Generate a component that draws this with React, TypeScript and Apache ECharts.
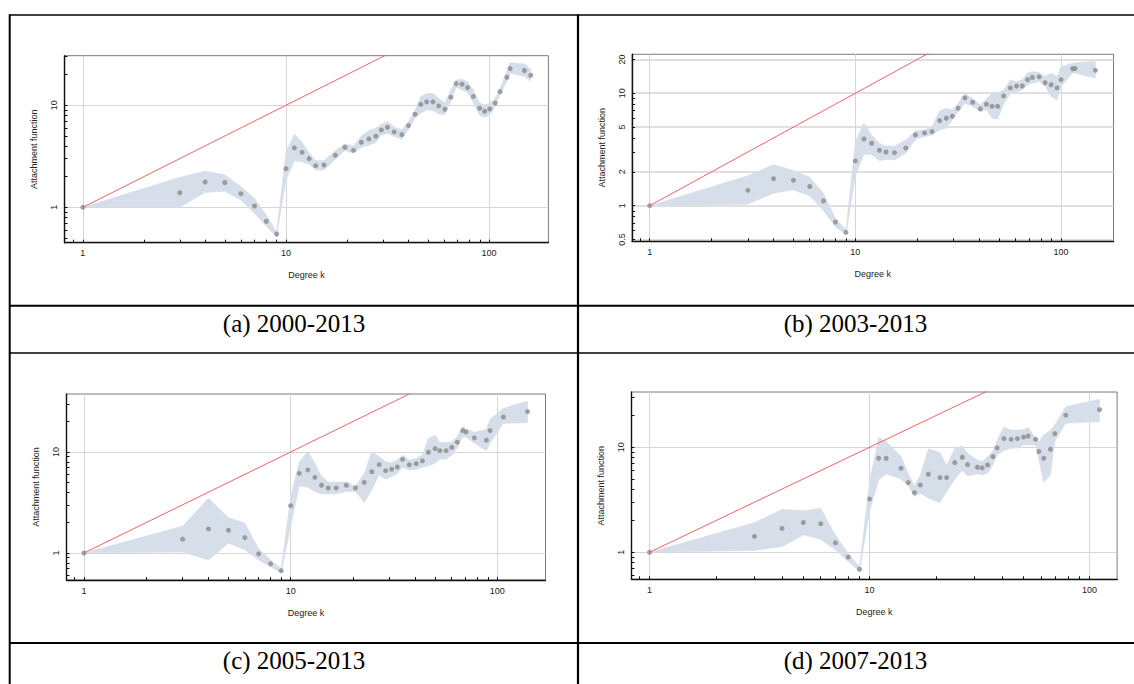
import { useEffect, useRef } from "react";
import * as echarts from "echarts";

// Panel captions (one per period)
const CAPTIONS = ["(a) 2000-2013", "(b) 2003-2013", "(c) 2005-2013", "(d) 2007-2013"];

// Axis tick values
const X_LABELS = [1, 10, 100];
const Y_LABELS = [1, 10];
const Y_LABELS_B = [0.5, 1, 2, 5, 10, 20];
const MINOR_TICKS = [
  0.5, 0.6, 0.7, 0.8, 0.9, 1, 2, 3, 4, 5, 6, 7, 8, 9, 10, 20, 30, 40, 50, 60, 70, 80, 90, 100, 200,
];

// (a) 2000-2013: degree, estimated attachment function, lower and upper bounds
const A_DEGREE = [1, 3, 4, 5, 6, 7, 8, 9, 10, 11, 12, 13, 14, 15.4, 17.5, 19.5, 21.5, 23.5, 25.6, 27.7, 29.5, 31.6, 34.1, 37.2, 40.1, 43.2, 46.1, 49.3, 52.9, 56.5, 60.6, 64.8, 68.9, 73.6, 78.3, 83.7, 89.8, 95.1, 100.8, 107.2, 113.2, 122.4, 127, 149.3, 160.3];
const A_VALUE = [1, 1.39, 1.77, 1.75, 1.36, 1.03, 0.73, 0.548, 2.39, 3.82, 3.46, 3.0, 2.56, 2.6, 3.24, 3.88, 3.62, 4.34, 4.68, 4.97, 5.73, 6.09, 5.48, 5.16, 6.32, 8.16, 10.2, 10.8, 10.8, 9.85, 9.14, 12.0, 16.3, 16.1, 14.9, 12.2, 9.35, 8.73, 9.2, 10.5, 13.6, 18.8, 22.9, 21.9, 19.7];
const A_LOWER = [1, 1.0, 1.4, 1.44, 1.18, 0.87, 0.65, 0.515, 1.85, 2.85, 2.8, 2.66, 2.32, 2.32, 2.96, 3.6, 3.38, 3.88, 4.05, 4.3, 5.1, 5.3, 4.93, 4.64, 5.8, 7.5, 8.35, 9.0, 8.87, 8.2, 8.1, 10.9, 15.0, 14.1, 13.3, 10.6, 8.0, 7.6, 8.0, 9.7, 12.6, 17.1, 20.6, 19.1, 17.1];
const A_UPPER = [1, 1.97, 2.27, 2.09, 1.6, 1.22, 0.84, 0.58, 3.5, 5.2, 4.4, 3.4, 2.87, 2.87, 3.6, 4.18, 4.0, 5.0, 5.65, 6.0, 6.5, 6.97, 6.1, 5.8, 6.9, 9.0, 12.2, 13.1, 13.1, 11.7, 10.6, 14.1, 17.7, 18.0, 17.1, 14.1, 10.5, 10.1, 10.5, 11.7, 14.7, 21.9, 26.2, 25.4, 22.5];

// (b) 2003-2013
const B_DEGREE = [1, 3, 4, 5, 6, 7, 8, 9, 10, 11, 12, 13.1, 14.1, 15.5, 17.6, 19.6, 21.7, 23.6, 25.7, 27.7, 29.6, 31.6, 34.1, 37.2, 40.5, 43.4, 46.2, 49.2, 52.6, 56.7, 60.8, 64.8, 68.8, 72.6, 78.3, 83.7, 89.5, 95.7, 100, 114, 117, 147];
const B_VALUE = [1, 1.37, 1.74, 1.68, 1.48, 1.1, 0.716, 0.579, 2.5, 3.92, 3.59, 3.11, 3.0, 2.96, 3.26, 4.26, 4.44, 4.56, 5.71, 5.99, 6.24, 7.35, 9.08, 8.31, 7.26, 7.98, 7.66, 7.66, 9.47, 11.15, 11.6, 11.6, 13.2, 13.8, 14.0, 12.4, 11.9, 11.15, 13.2, 16.5, 16.6, 16.0];
const B_LOWER = [1, 1.03, 1.29, 1.38, 1.22, 0.9, 0.65, 0.548, 1.81, 2.86, 2.83, 2.51, 2.58, 2.55, 2.92, 3.9, 4.11, 4.26, 4.72, 4.88, 5.79, 6.87, 8.15, 7.6, 6.87, 7.1, 5.99, 5.87, 8.04, 9.86, 10.3, 10.7, 11.9, 12.3, 12.7, 11.5, 9.34, 8.73, 11.5, 15.1, 15.1, 13.6];
const B_UPPER = [1, 1.85, 2.32, 2.05, 1.79, 1.29, 0.77, 0.61, 3.71, 5.41, 4.26, 3.59, 3.4, 3.4, 3.84, 4.65, 4.72, 5.05, 7.0, 7.35, 7.1, 8.15, 10.0, 9.0, 7.87, 9.0, 10.0, 10.1, 10.7, 13.2, 12.7, 13.2, 15.1, 15.6, 15.3, 14.1, 15.1, 14.1, 17.3, 18.5, 18.7, 19.3];

// (c) 2005-2013
const C_DEGREE = [1, 3, 4, 5, 6, 7, 8, 9, 10, 11, 12.1, 13.1, 14.1, 15.2, 16.6, 18.6, 20.6, 22.7, 24.7, 26.8, 28.8, 30.8, 32.8, 34.8, 37.5, 40.5, 43.4, 46.4, 50.0, 52.7, 56.5, 60.2, 64.0, 68.0, 70.5, 77.4, 88.5, 92.2, 107, 140];
const C_VALUE = [1, 1.37, 1.73, 1.68, 1.42, 0.98, 0.78, 0.668, 2.94, 6.15, 6.64, 5.61, 4.68, 4.4, 4.4, 4.68, 4.4, 5.01, 6.38, 7.49, 6.53, 6.74, 7.1, 8.46, 7.49, 7.66, 8.15, 9.93, 10.8, 10.3, 10.3, 11.1, 12.5, 16.3, 15.8, 13.8, 13.1, 16.3, 22.2, 25.1];
const C_LOWER = [1, 1.02, 0.853, 1.25, 1.07, 0.853, 0.73, 0.63, 1.82, 4.61, 4.47, 4.05, 3.84, 3.84, 3.84, 4.05, 4.05, 3.15, 4.2, 5.92, 5.36, 5.7, 6.06, 7.05, 6.64, 6.74, 7.05, 7.27, 7.72, 8.46, 8.46, 9.34, 10.9, 14.2, 14.0, 12.2, 10.3, 12.2, 19.2, 19.5];
const C_UPPER = [1, 1.85, 3.48, 2.25, 1.97, 1.11, 0.853, 0.705, 3.61, 8.02, 10.1, 7.72, 5.78, 5.05, 5.05, 5.05, 4.61, 6.15, 10.1, 9.0, 8.02, 7.84, 8.33, 9.34, 8.33, 8.65, 9.34, 13.7, 14.7, 12.4, 12.4, 12.6, 14.2, 18.1, 17.1, 15.7, 16.8, 21.1, 27.1, 32.0];

// (d) 2007-2013
const D_DEGREE = [1, 3, 4, 5, 6, 7, 8, 9, 10, 11, 11.9, 13.9, 15.0, 16.0, 17.0, 18.5, 20.9, 22.4, 24.4, 26.4, 27.9, 30.9, 32.5, 34.4, 36.4, 38.0, 40.8, 44.0, 47.0, 50.1, 52.6, 56.9, 58.8, 61.9, 66.4, 69.5, 78.0, 111];
const D_VALUE = [1, 1.42, 1.69, 1.92, 1.87, 1.23, 0.9, 0.689, 3.22, 7.86, 7.86, 6.31, 4.61, 3.7, 4.38, 5.53, 5.14, 5.14, 7.14, 8.03, 6.84, 6.45, 6.36, 6.79, 8.15, 9.86, 12.1, 11.9, 12.1, 12.5, 12.8, 11.9, 9.1, 7.86, 9.57, 13.5, 20.2, 22.8];
const D_LOWER = [1, 1.04, 1.13, 1.46, 1.33, 1.05, 0.815, 0.655, 2.44, 4.89, 5.57, 4.96, 4.28, 3.39, 3.65, 3.27, 2.97, 3.78, 4.96, 6.0, 5.33, 5.57, 5.45, 5.65, 6.79, 8.45, 9.29, 9.78, 9.78, 10.5, 10.5, 10.5, 7.57, 4.61, 5.45, 11.3, 16.9, 17.5];
const D_UPPER = [1, 1.92, 2.57, 2.49, 2.62, 1.46, 0.98, 0.73, 4.71, 12.4, 11.3, 8.27, 5.65, 4.28, 5.45, 9.71, 8.9, 6.79, 9.78, 10.3, 8.77, 7.57, 7.3, 8.15, 9.29, 11.7, 15.7, 14.6, 14.6, 14.8, 15.4, 12.2, 11.3, 13.1, 14.6, 16.3, 24.4, 28.6];

// Reference line: attachment proportional to degree
const LINEAR_REF = [
  [1, 1],
  [1000, 1000],
];

const SANS = "'Liberation Sans', Arial, Helvetica, sans-serif";
const SERIF = "'Liberation Serif', 'Times New Roman', Times, serif";
const BAND = "#d6deea";
const POINT = "#8a8a8a";
const RED = "#f06464";
const GRID_LINE = "#d6d6d6";

type Panel = {
  deg: number[];
  val: number[];
  lo: number[];
  hi: number[];
  yLabels: number[];
  box: [number, number, number, number];
  xRange: [number, number];
  yRange: [number, number];
  yGridWidth: number;
};

const PANELS: Panel[] = [
  { deg: A_DEGREE, val: A_VALUE, lo: A_LOWER, hi: A_UPPER, yLabels: Y_LABELS, box: [64.6, 55.7, 483.8, 187], xRange: [0.813, 195.9], yRange: [0.45, 30.6], yGridWidth: 1 },
  { deg: B_DEGREE, val: B_VALUE, lo: B_LOWER, hi: B_UPPER, yLabels: Y_LABELS_B, box: [632.1, 54.3, 481.4, 187], xRange: [0.821, 180], yRange: [0.482, 22.2], yGridWidth: 1.6 },
  { deg: C_DEGREE, val: C_VALUE, lo: C_LOWER, hi: C_UPPER, yLabels: Y_LABELS, box: [66.5, 394, 479, 186], xRange: [0.823, 171], yRange: [0.54, 37.5], yGridWidth: 1 },
  { deg: D_DEGREE, val: D_VALUE, lo: D_LOWER, hi: D_UPPER, yLabels: Y_LABELS, box: [631.5, 392, 485.6, 187.3], xRange: [0.828, 133.4], yRange: [0.553, 33.6], yGridWidth: 1 },
];

const labelFmt = (v: number) => String(v);

function buildOption() {
  const grid: any[] = [];
  const xAxis: any[] = [];
  const yAxis: any[] = [];
  const series: any[] = [];

  PANELS.forEach((p, i) => {
    grid.push({
      left: p.box[0],
      top: p.box[1],
      width: p.box[2],
      height: p.box[3],
      show: true,
      borderColor: "#7a7a7a",
      borderWidth: 1,
      backgroundColor: "rgba(0,0,0,0)",
    });

    // main axes: labels, titles and grid lines
    xAxis.push({
      type: "log",
      logBase: 10,
      gridIndex: i,
      position: "bottom",
      min: p.xRange[0],
      max: p.xRange[1],
      axisLine: { show: true, onZero: false, lineStyle: { color: "#111", width: 1.4 } },
      axisTick: { show: false, customValues: X_LABELS },
      axisLabel: { customValues: X_LABELS, formatter: labelFmt, fontSize: 9, fontFamily: SANS, color: "#222", margin: 6 },
      splitLine: { show: true, lineStyle: { color: GRID_LINE, width: 1 } },
      name: "Degree k",
      nameLocation: "middle",
      nameGap: 28,
      nameTextStyle: { fontSize: 9, fontFamily: SANS, color: "#222" },
    });
    yAxis.push({
      type: "log",
      logBase: 10,
      gridIndex: i,
      position: "left",
      min: p.yRange[0],
      max: p.yRange[1],
      axisLine: { show: true, onZero: false, lineStyle: { color: "#111", width: 1.4 } },
      axisTick: { show: false, customValues: p.yLabels },
      axisLabel: { customValues: p.yLabels, formatter: labelFmt, rotate: 90, fontSize: 9, fontFamily: SANS, color: "#222", margin: 6 },
      splitLine: { show: true, lineStyle: { color: GRID_LINE, width: p.yGridWidth } },
      name: "Attachment function",
      nameLocation: "middle",
      nameRotate: 90,
      nameGap: 26,
      nameTextStyle: { fontSize: 9, fontFamily: SANS, color: "#222" },
    });
    // companion axes carrying the minor ticks only
    xAxis.push({
      type: "log",
      logBase: 10,
      gridIndex: i,
      position: "bottom",
      min: p.xRange[0],
      max: p.xRange[1],
      axisLine: { show: false },
      axisLabel: { show: false },
      splitLine: { show: false },
      axisTick: { show: true, inside: true, length: 3, customValues: MINOR_TICKS, lineStyle: { color: "#111", width: 1 } },
    });
    yAxis.push({
      type: "log",
      logBase: 10,
      gridIndex: i,
      position: "left",
      min: p.yRange[0],
      max: p.yRange[1],
      axisLine: { show: false },
      axisLabel: { show: false },
      splitLine: { show: false },
      axisTick: { show: true, inside: true, length: 3, customValues: MINOR_TICKS, lineStyle: { color: "#111", width: 1 } },
    });

    const axisIdx = 2 * i;
    const bandData = p.deg.map((d, j) => [d, p.lo[j], p.hi[j]]);

    series.push({
      type: "custom",
      xAxisIndex: axisIdx,
      yAxisIndex: axisIdx,
      z: 1,
      silent: true,
      data: bandData,
      encode: { x: 0, y: [1, 2] },
      renderItem: (params: any, api: any) => {
        if (params.dataIndex !== 0) return null;
        const pts: number[][] = [];
        for (let j = 0; j < p.deg.length; j++) pts.push(api.coord([p.deg[j], p.hi[j]]));
        for (let j = p.deg.length - 1; j >= 0; j--) pts.push(api.coord([p.deg[j], p.lo[j]]));
        return { type: "polygon", shape: { points: pts }, style: { fill: BAND, stroke: BAND, lineWidth: 0.5 } };
      },
    });
    series.push({
      type: "scatter",
      xAxisIndex: axisIdx,
      yAxisIndex: axisIdx,
      z: 3,
      symbol: "circle",
      symbolSize: 5,
      itemStyle: { color: POINT },
      data: p.deg.map((d, j) => [d, p.val[j]]),
    });
    series.push({
      type: "line",
      xAxisIndex: axisIdx,
      yAxisIndex: axisIdx,
      z: 4,
      symbol: "none",
      clip: true,
      lineStyle: { color: RED, width: 1 },
      data: LINEAR_REF,
    });
  });

  // table rules and captions around the four panels
  const rule = (x1: number, y1: number, x2: number, y2: number, w: number) => ({
    type: "line",
    silent: true,
    shape: { x1, y1, x2, y2 },
    style: { stroke: "#000", lineWidth: w },
  });
  const captionPos = [
    [294, 323],
    [855.5, 323],
    [294, 660],
    [855.5, 660],
  ];
  const graphic: any[] = [
    rule(9, 15, 1134, 15, 1.4),
    rule(9.7, 14.5, 9.7, 684, 2),
    rule(578, 14.5, 578, 684, 2.2),
    rule(9, 305.7, 1134, 305.7, 2),
    rule(9, 353, 1134, 353, 1.4),
    rule(9, 643, 1134, 643, 2),
    ...CAPTIONS.map((t, i) => ({
      type: "text",
      silent: true,
      x: captionPos[i][0],
      y: captionPos[i][1],
      style: {
        text: t,
        fontSize: 25,
        fontFamily: SERIF,
        fill: "#000",
        align: "center",
        verticalAlign: "middle",
      },
    })),
  ];

  return { animation: false, backgroundColor: "#fff", grid, xAxis, yAxis, series, graphic };
}

export default function App() {
  const ref = useRef<HTMLDivElement>(null);
  useEffect(() => {
    if (!ref.current) return;
    const chart = echarts.init(ref.current, undefined, { renderer: "svg" });
    chart.setOption(buildOption() as any);
    return () => chart.dispose();
  }, []);
  return (
    <div
      ref={ref}
      style={{ position: "absolute", left: 0, top: 0, width: 1134, height: 684, background: "#fff" }}
    />
  );
}
